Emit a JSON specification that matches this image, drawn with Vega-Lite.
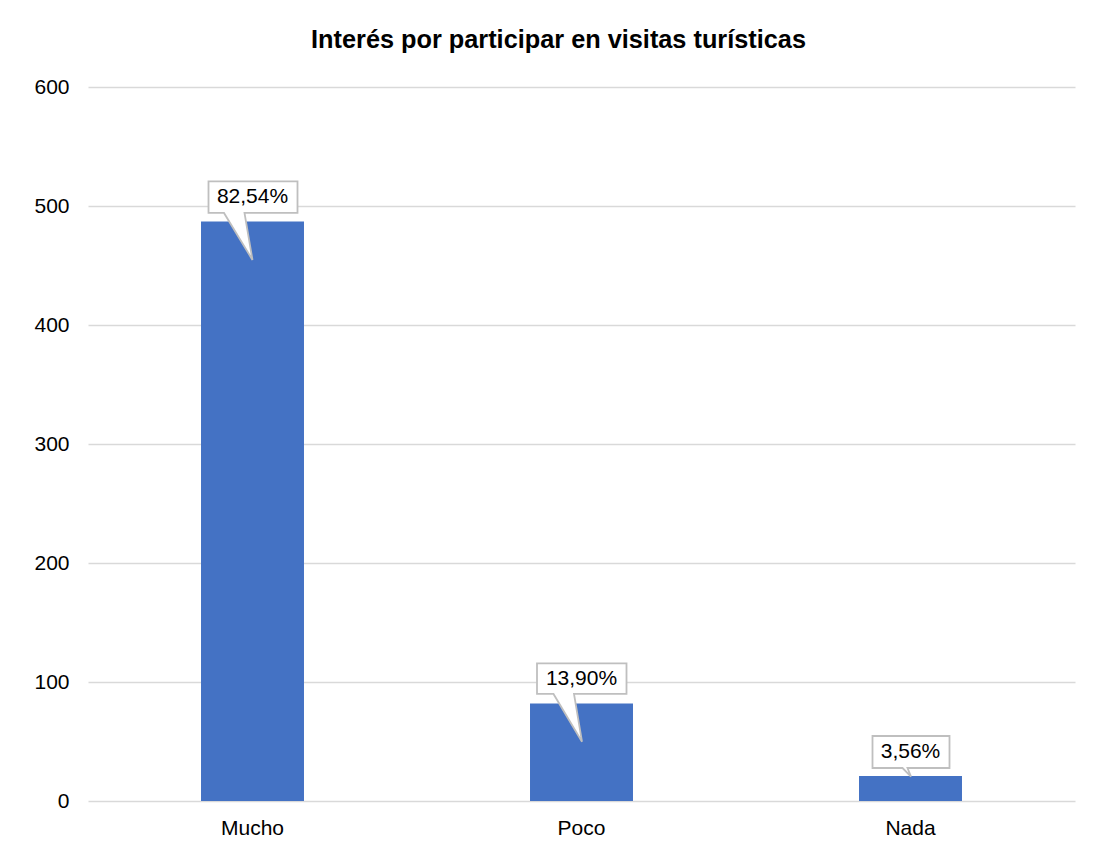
{
  "$schema": "https://vega.github.io/schema/vega-lite/v6.json",
  "autosize": "none",
  "width": 987,
  "height": 714,
  "padding": {"left": 88, "top": 87, "right": 34, "bottom": 51},
  "background": "white",
  "title": {
    "text": "Interés por participar en visitas turísticas",
    "font": "Liberation Sans",
    "fontSize": 25.3,
    "fontWeight": "bold",
    "color": "#000000",
    "anchor": "middle",
    "dx": -23,
    "offset": 23
  },
  "data": {
    "values": [
      {"cat": "Mucho", "n": 487, "pct": "82,54%"},
      {"cat": "Poco", "n": 82, "pct": "13,90%"},
      {"cat": "Nada", "n": 21, "pct": "3,56%"}
    ]
  },
  "encoding": {
    "x": {
      "field": "cat",
      "type": "nominal",
      "sort": null,
      "scale": {"paddingInner": 0.687, "paddingOuter": 0.3435},
      "axis": {
        "title": null,
        "labelAngle": 0,
        "ticks": false,
        "domain": false,
        "grid": false,
        "labelFont": "Liberation Sans",
        "labelFontSize": 21,
        "labelColor": "#000000",
        "labelPadding": 16
      }
    },
    "y": {
      "field": "n",
      "type": "quantitative",
      "scale": {"domain": [0, 600], "nice": false},
      "axis": {
        "title": null,
        "values": [0, 100, 200, 300, 400, 500, 600],
        "ticks": false,
        "domain": false,
        "grid": true,
        "gridColor": "#d9d9d9",
        "gridWidth": 1.5,
        "labelFont": "Liberation Sans",
        "labelFontSize": 21,
        "labelColor": "#000000",
        "labelPadding": 19
      }
    }
  },
  "layer": [
    {"mark": {"type": "bar", "color": "#4472C4"}},
    {
      "mark": {
        "type": "point",
        "filled": true,
        "fill": "white",
        "stroke": "#bfbfbf",
        "strokeWidth": 1.8,
        "opacity": 1,
        "size": 4
      },
      "encoding": {
        "shape": {
          "condition": [
            {"test": "datum.cat === 'Mucho'", "value": "M-44,-40L45,-40L45,-8.5L-8,-8.5L0,38.5L-28.5,-8.5L-44,-8.5Z"},
            {"test": "datum.cat === 'Poco'", "value": "M-44.5,-40L45,-40L45,-9.5L-7.5,-9.5L0.5,38.3L-28,-9.5L-44.5,-9.5Z"}
          ],
          "value": "M-38,-40L39,-40L39,-8L-3,-8L0.5,0.7L-8,-8L-38,-8Z"
        }
      }
    },
    {
      "mark": {
        "type": "text",
        "dy": -24,
        "baseline": "middle",
        "align": "center",
        "font": "Liberation Sans",
        "fontSize": 21,
        "color": "#000000"
      },
      "encoding": {"text": {"field": "pct"}}
    }
  ],
  "config": {"view": {"stroke": null}}
}
